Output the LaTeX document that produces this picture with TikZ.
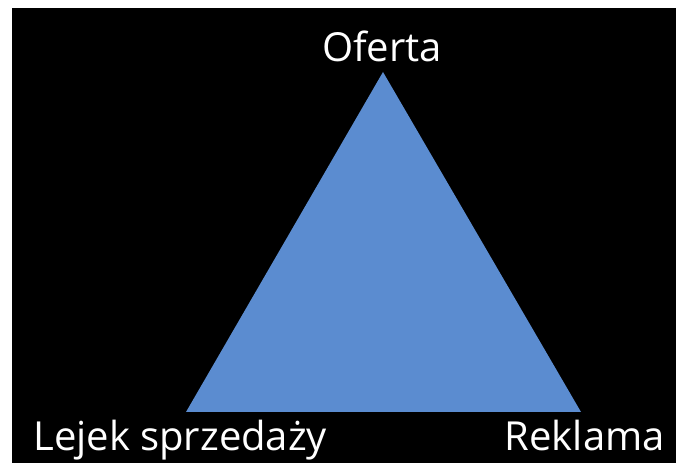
\documentclass[tikz,border=0pt]{standalone}
\usepackage{fontspec}
\setmainfont{Open Sans}
\usetikzlibrary{positioning}
\definecolor{trojkat}{RGB}{91,140,208}

\begin{document}
\begin{tikzpicture}[
        x=0.75pt, y=-0.75pt,
        % Styl podpisow
        etykieta/.style={
                text=white,
                font=\fontsize{30}{36}\selectfont,
                inner sep=0pt
            }
    ]

    % Tlo
    \fill[white] (0,0) rectangle (676,463);
    \fill[black] (12,8) rectangle (676,463);
    \useasboundingbox (0,0) rectangle (676,463);

    % Wierzcholki
    \coordinate (gora) at (383,72);
    \coordinate (lewy) at (186,412);
    \coordinate (prawy) at (581,412);

    % Trojkat
    \fill[trojkat] (gora) -- (lewy) -- (prawy) -- cycle;

    % Podpisy
    \node[etykieta, anchor=base] (oferta) at (382,62) {Oferta};
    \node[etykieta, anchor=base west] (lejek) at (33,451) {Lejek sprzedaży};
    \node[etykieta, anchor=base east] (reklama) at (665,451) {Reklama};

\end{tikzpicture}
\end{document}
